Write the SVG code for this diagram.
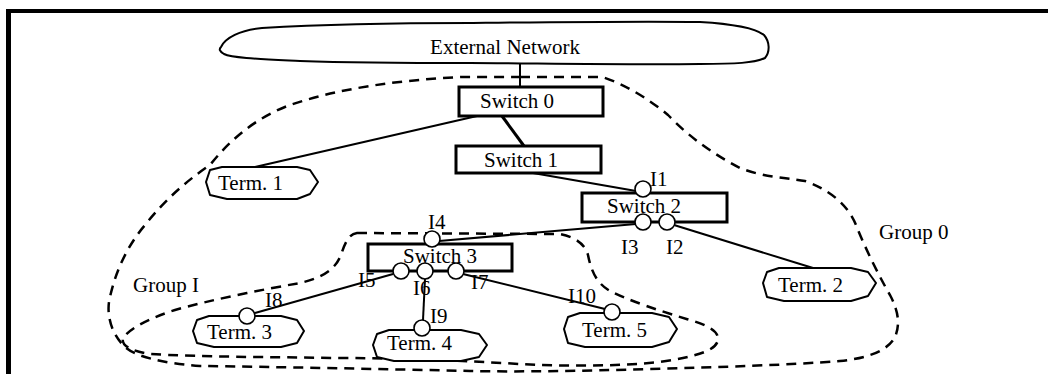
<svg xmlns="http://www.w3.org/2000/svg" width="1048" height="374" viewBox="0 0 1048 374">
  <style>
    text { font-family: "Liberation Serif", "Times New Roman", serif; font-size: 21px; fill: #000; }
    .box { fill: #fff; stroke: #000; stroke-width: 3; }
    .term { fill: #fff; stroke: #000; stroke-width: 2; stroke-linejoin: round; }
    .port { fill: #fff; stroke: #000; stroke-width: 1.6; }
    .link { stroke: #000; stroke-width: 2; fill: none; }
    .trunk { stroke: #000; stroke-width: 3; fill: none; }
    .group { fill: none; stroke: #000; stroke-width: 2.5; stroke-dasharray: 10 7; }
  </style>

  <!-- frame -->
  <rect x="6" y="9" width="1042" height="4" fill="#000"/>
  <rect x="6" y="9" width="5" height="365" fill="#000"/>

  <!-- groups -->
  <g id="group0">
    <path class="group" d="M520,77 L602,77 C625,84 650,100 668,115 C690,138 715,155 740,168 C765,178 790,178 805,181 C830,190 848,205 856,225 C866,250 880,278 890,295 C899,312 900,325 895,337 C888,350 870,358 840,361 C790,365 720,367 650,369 C580,371 520,372 470,371 C380,369 280,367 200,366 C160,363 135,356 125,347 C110,333 106,312 110,297 C116,270 128,245 145,225 C165,200 185,182 210,165 C230,140 255,118 290,105 C340,88 400,80 461,77 Z"/>
    <text x="879" y="239">Group 0</text>
  </g>
  <g id="groupI">
    <path class="group" d="M357,233 L560,234 C575,237 585,244 588,255 C591,270 596,283 610,291 C630,301 660,311 690,320 C710,326 719,332 718,340 C716,350 700,356 660,362 C620,366 580,366 540,365 C480,362 420,358 340,358 C270,357 200,357 150,354 C130,351 121,345 123,338 C130,328 150,318 175,310 C210,300 260,290 300,283 C325,277 337,268 342,252 C346,240 350,234 357,233 Z"/>
    <text x="133" y="292">Group I</text>
  </g>

  <!-- connectors -->
  <g id="connectors">
    <line class="link" x1="520" y1="64" x2="520" y2="87"/>
    <line class="trunk" x1="502" y1="116" x2="524" y2="146"/>
    <line class="link" x1="477" y1="116" x2="255" y2="167"/>
    <line class="link" x1="533" y1="173" x2="636" y2="191"/>
    <line class="link" x1="636" y1="224" x2="439" y2="241"/>
    <line class="link" x1="674" y1="225" x2="813" y2="268"/>
    <line class="link" x1="393" y1="274" x2="255" y2="313"/>
    <line class="link" x1="425" y1="279" x2="423" y2="320"/>
    <line class="link" x1="463" y1="274" x2="605" y2="309"/>
  </g>

  <!-- external network cloud -->
  <g id="external">
    <path fill="#fff" stroke="#000" stroke-width="2" d="M221,47 C225,38 240,30 262,28 C330,24 420,23 470,23 C560,22 640,21 700,22 C735,24 755,28 764,35 C770,42 770,52 765,58 C755,63 735,64 700,64 C620,65 520,63 470,63 C400,63 330,62 300,61 C260,59 232,58 224,54 C219,51 219,49 221,47 Z"/>
    <text x="505" y="54" text-anchor="middle">External Network</text>
  </g>

  <!-- switches -->
  <g id="switch0">
    <rect class="box" x="459" y="87" width="144" height="29"/>
    <text x="480" y="108">Switch 0</text>
  </g>
  <g id="switch1">
    <rect class="box" x="456" y="146" width="145" height="27"/>
    <text x="484" y="167">Switch 1</text>
  </g>
  <g id="switch2">
    <rect class="box" x="582" y="193" width="145" height="29"/>
    <text x="607" y="213">Switch 2</text>
  </g>
  <g id="switch3">
    <rect class="box" x="368" y="244" width="144" height="27"/>
    <text x="403" y="263">Switch 3</text>
  </g>

  <!-- terminals -->
  <g id="term1">
    <polygon class="term" points="206,182 210,170 222,167 297,167 310,170 318,182 310,194 297,199 227,199 210,195"/>
    <text x="218" y="190">Term. 1</text>
  </g>
  <g id="term2">
    <polygon class="term" points="763,283 767,272 779,268 851,268 868,272 876,283 868,296 851,301 784,301 767,297"/>
    <text x="778" y="292">Term. 2</text>
  </g>
  <g id="term3">
    <polygon class="term" points="193,331 197,320 209,316 281,316 297,320 304,331 297,343 281,347 214,347 197,343"/>
    <text x="207" y="339">Term. 3</text>
  </g>
  <g id="term4">
    <polygon class="term" points="373,345 377,334 389,330 461,330 479,334 487,345 479,357 461,361 394,361 377,357"/>
    <text x="387" y="350">Term. 4</text>
  </g>
  <g id="term5">
    <polygon class="term" points="564,329 568,317 580,313 652,313 669,317 677,329 669,342 652,347 585,347 568,343"/>
    <text x="582" y="337">Term. 5</text>
  </g>

  <!-- interface ports -->
  <g id="ports">
    <g id="I1"><circle class="port" cx="643" cy="189" r="8"/><text x="650" y="186">I1</text></g>
    <g id="I2"><circle class="port" cx="667" cy="222" r="8"/><text x="666" y="254">I2</text></g>
    <g id="I3"><circle class="port" cx="643" cy="222" r="8"/><text x="621" y="254">I3</text></g>
    <g id="I4"><circle class="port" cx="432" cy="239" r="8"/><text x="428" y="229">I4</text></g>
    <g id="I5"><circle class="port" cx="401" cy="271" r="8"/><text x="358" y="287">I5</text></g>
    <g id="I6"><circle class="port" cx="425" cy="271" r="8"/><text x="413" y="295">I6</text></g>
    <g id="I7"><circle class="port" cx="456" cy="271" r="8"/><text x="471" y="289">I7</text></g>
    <g id="I8"><circle class="port" cx="247" cy="316" r="8"/><text x="265" y="307">I8</text></g>
    <g id="I9"><circle class="port" cx="422" cy="328" r="8"/><text x="430" y="323">I9</text></g>
    <g id="I10"><circle class="port" cx="612" cy="312" r="8"/><text x="568" y="303">I10</text></g>
  </g>
</svg>
